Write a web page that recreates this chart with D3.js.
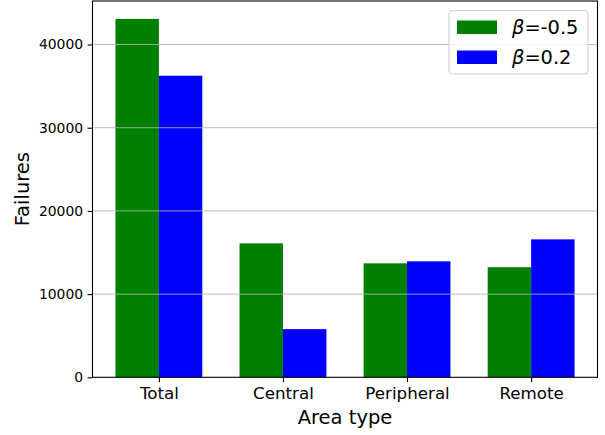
<!DOCTYPE html>
<html><head><meta charset="utf-8">
<script src="https://cdn.jsdelivr.net/npm/d3@7"></script>
<style>body{margin:0;background:#fff}svg{display:block}text{font-family:"DejaVu Sans",sans-serif;fill:#000}</style>
</head><body><svg id="c" width="605" height="435"></svg>
<script>
const categories = ["Total", "Central", "Peripheral", "Remote"];
const seriesNames = ["-0.5", "0.2"];
const seriesColors = ["#008000", "#0000ff"];
const betaNeg05 = [43080, 16100, 13700, 13230];
const beta02 = [36250, 5790, 13940, 16580];
const yTicks = [0, 10000, 20000, 30000, 40000];

const series = [betaNeg05, beta02];
const svg = d3.select("#c");
const L = 92.5, R = 597.5, T = 1, B = 377.3;
const barW = 0.35;
const maxV = d3.max(series.flat());
const x = d3.scaleLinear().domain([-0.535, categories.length - 1 + 0.535]).range([L, R]);
const y = d3.scaleLinear().domain([0, maxV * 1.05]).range([B, T]);

// bars
series.forEach((vals, s) => {
  svg.append("g").selectAll("rect").data(vals).join("rect")
    .attr("x", (d, i) => x(i + (s === 0 ? -barW : 0)))
    .attr("width", (d, i) => x(i + barW) - x(i))
    .attr("y", d => y(d))
    .attr("height", d => y(0) - y(d))
    .attr("fill", seriesColors[s]);
});

// grid
svg.append("g").selectAll("line").data(yTicks.filter(t => t > 0)).join("line")
  .attr("x1", L).attr("x2", R).attr("y1", d => y(d)).attr("y2", d => y(d))
  .attr("stroke", "#b0b0b0").attr("stroke-width", 1).attr("stroke-opacity", 0.85);

// axes
const yAxis = d3.axisLeft(y).tickValues(yTicks).tickFormat(d3.format("d")).tickSize(4.9).tickPadding(4.5);
const gy = svg.append("g").attr("transform", `translate(${L},0)`).call(yAxis);
gy.select(".domain").remove();
gy.selectAll("text").style("font-size", "13.9px").style("font-family", "DejaVu Sans");
gy.selectAll("line").attr("stroke", "#000").attr("stroke-width", 1.1);

const xAxis = d3.axisBottom(x).tickValues(d3.range(categories.length)).tickFormat(i => categories[i]).tickSize(4.9).tickPadding(4.5);
const gx = svg.append("g").attr("transform", `translate(0,${B})`).call(xAxis);
gx.select(".domain").remove();
gx.selectAll("text").style("font-size", "16.7px").style("font-family", "DejaVu Sans");
gx.selectAll("line").attr("stroke", "#000").attr("stroke-width", 1.1);

// spines
svg.append("rect").attr("x", L).attr("y", T).attr("width", R - L).attr("height", B - T)
  .attr("fill", "none").attr("stroke", "#000").attr("stroke-width", 1.1);

// labels
svg.append("text").attr("x", (L + R) / 2).attr("y", 424).attr("text-anchor", "middle")
  .style("font-size", "19.5px").text("Area type");
svg.append("text").attr("transform", `translate(29,${(T + B) / 2}) rotate(-90)`).attr("text-anchor", "middle")
  .style("font-size", "19.5px").text("Failures");

// legend
const lg = svg.append("g");
lg.append("rect").attr("x", 449).attr("y", 10.5).attr("width", 139).attr("height", 63.5).attr("rx", 3)
  .attr("fill", "#fff").attr("fill-opacity", 0.8).attr("stroke", "#cccccc").attr("stroke-width", 1);
seriesNames.forEach((n, i) => {
  const cy = 27 + i * 30;
  lg.append("rect").attr("x", 457).attr("y", cy - 6.5).attr("width", 40).attr("height", 13.5).attr("fill", seriesColors[i]);
  const t = lg.append("text").attr("x", 512).attr("y", cy + 7).style("font-size", "19.4px");
  t.append("tspan").style("font-style", "italic").text("β");
  t.append("tspan").text("=" + n);
});
</script></body></html>
